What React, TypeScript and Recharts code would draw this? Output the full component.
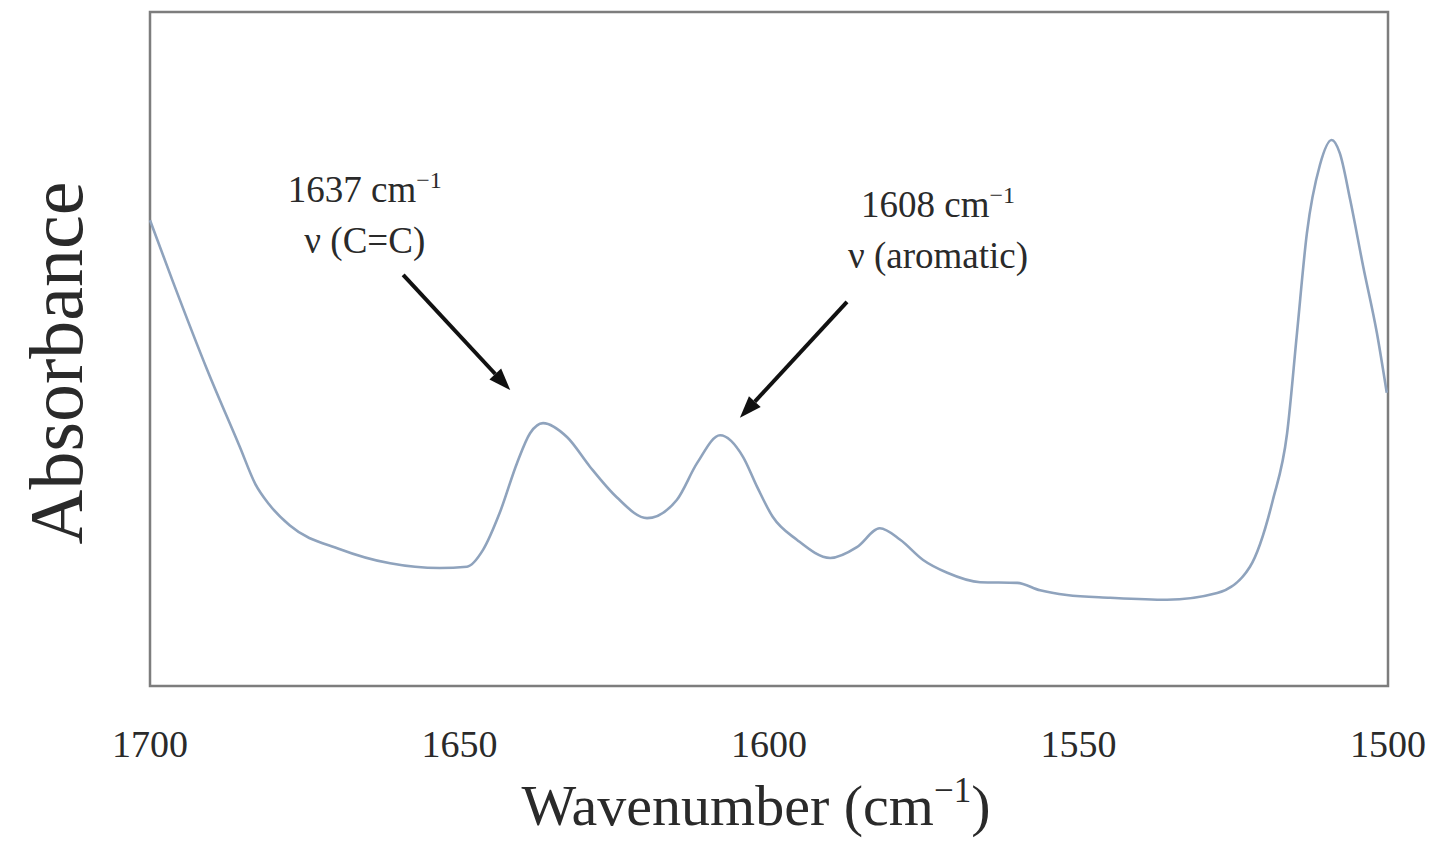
import { LineChart, Line, XAxis, YAxis, ReferenceArea, ReferenceLine, ReferenceDot } from 'recharts';

// FTIR spectrum (wavenumber in cm-1, absorbance in arbitrary units)
const wavenumbers = [
  1700, 1696.3, 1690.8, 1685.5, 1683.0, 1680.8, 1677.4, 1669.3, 1661.2, 1653.2, 1648.8,
  1646.2, 1643.5, 1640.7, 1638.6, 1636.5, 1632.6, 1628.9, 1624.6, 1619.7, 1614.9,
  1611.6, 1607.9, 1604.2, 1601.9, 1599.4, 1595.5, 1590.1, 1585.8, 1582.1, 1578.8,
  1575.1, 1571.2, 1565.9, 1559.9, 1556.2, 1551.9, 1544.9, 1535.7, 1527.6, 1522.3,
  1518.6, 1516.3, 1514.7, 1513.1, 1511.0, 1509.1, 1507.8, 1506.1, 1504.0, 1501.8,
  1500.2,
];
const absorbance = [
  0.691, 0.6, 0.47, 0.355, 0.3, 0.27, 0.238, 0.203, 0.182, 0.175, 0.177,
  0.202, 0.257, 0.331, 0.375, 0.39, 0.369, 0.325, 0.28, 0.249, 0.276,
  0.331, 0.372, 0.34, 0.295, 0.251, 0.217, 0.19, 0.206, 0.234, 0.217,
  0.187, 0.168, 0.154, 0.153, 0.142, 0.135, 0.131, 0.128, 0.138, 0.177,
  0.276, 0.375, 0.524, 0.672, 0.773, 0.81, 0.791, 0.721, 0.622, 0.524,
  0.435,
];
const xTicks = [1700, 1650, 1600, 1550, 1500];

// annotation arrows: [from, to] in data units
const arrowCC = [{ x: 1659.1, y: 0.61 }, { x: 1641.8, y: 0.439 }];
const arrowArom = [{ x: 1587.4, y: 0.57 }, { x: 1604.7, y: 0.398 }];

const data = wavenumbers.map((w, i) => ({ w, a: absorbance[i] }));

const FONT = '"Liberation Serif", "DejaVu Serif", serif';
const INK = '#2a2a2a';

function Arrow(props: any) {
  const { x1, y1, x2, y2 } = props;
  const ang = Math.atan2(y2 - y1, x2 - x1);
  const len = 22;
  const half = 8;
  const bx = x2 - len * Math.cos(ang);
  const by = y2 - len * Math.sin(ang);
  const px = -Math.sin(ang) * half;
  const py = Math.cos(ang) * half;
  return (
    <g>
      <line x1={x1} y1={y1} x2={bx} y2={by} stroke="#111" strokeWidth={4} />
      <polygon points={`${x2},${y2} ${bx + px},${by + py} ${bx - px},${by - py}`} fill="#111" />
    </g>
  );
}

function note(line1: string, line2: string) {
  return (p: any) => (
    <text x={p.cx} y={p.cy} textAnchor="middle" fontFamily={FONT} fontSize={37} fill={INK}>
      <tspan>{line1} cm</tspan>
      <tspan fontSize={24} dy={-14}>−1</tspan>
      <tspan x={p.cx} dy={65}>{line2}</tspan>
    </text>
  );
}

export default function App() {
  return (
    <div style={{ position: 'absolute', left: 0, top: 0, width: 1435, height: 842, background: '#fff' }}>
      <LineChart
        width={1435}
        height={842}
        data={data}
        margin={{ top: 12, right: 47, left: 0, bottom: 76 }}
      >
        <XAxis
          dataKey="w"
          type="number"
          domain={[1500, 1700]}
          reversed
          ticks={xTicks}
          axisLine={false}
          tickLine={false}
          tickSize={6}
          tickMargin={38}
          height={80}
          tick={{ fontSize: 38, fontFamily: FONT, fill: INK }}
          label={{
            content: (p: any) => {
              const vb = p.viewBox;
              return (
                <text x={vb.x + vb.width / 2 - 13} y={vb.y + 139} textAnchor="middle" fontFamily={FONT} fontSize={58} fill={INK}>
                  <tspan>Wavenumber (cm</tspan>
                  <tspan fontSize={35} dy={-23}>−1</tspan>
                  <tspan dy={23}>)</tspan>
                </text>
              );
            },
          }}
        />
        <YAxis
          type="number"
          domain={[0, 1]}
          width={150}
          tick={false}
          axisLine={false}
          tickLine={false}
          label={{
            content: (p: any) => {
              const vb = p.viewBox;
              const cx = 82;
              const cy = vb.y + vb.height / 2 + 14;
              return (
                <text x={cx} y={cy} transform={`rotate(-90 ${cx} ${cy})`} textAnchor="middle" fontFamily={FONT} fontSize={76} fill={INK}>
                  Absorbance
                </text>
              );
            },
          }}
        />
        <ReferenceArea x1={1700} x2={1500} y1={0} y2={1} fill="none" stroke="#7d7d7d" strokeWidth={2.5} fillOpacity={0} />
        <Line
          type="monotone"
          dataKey="a"
          stroke="#8fa3bd"
          strokeWidth={2.6}
          dot={false}
          activeDot={false}
          isAnimationActive={false}
        />
        <ReferenceLine segment={arrowCC} shape={Arrow} />
        <ReferenceLine segment={arrowArom} shape={Arrow} />
        <ReferenceDot x={1665.3} y={0.718} r={0} shape={note('1637', 'ν (C=C)')} />
        <ReferenceDot x={1572.7} y={0.696} r={0} shape={note('1608', 'ν (aromatic)')} />
      </LineChart>
    </div>
  );
}
